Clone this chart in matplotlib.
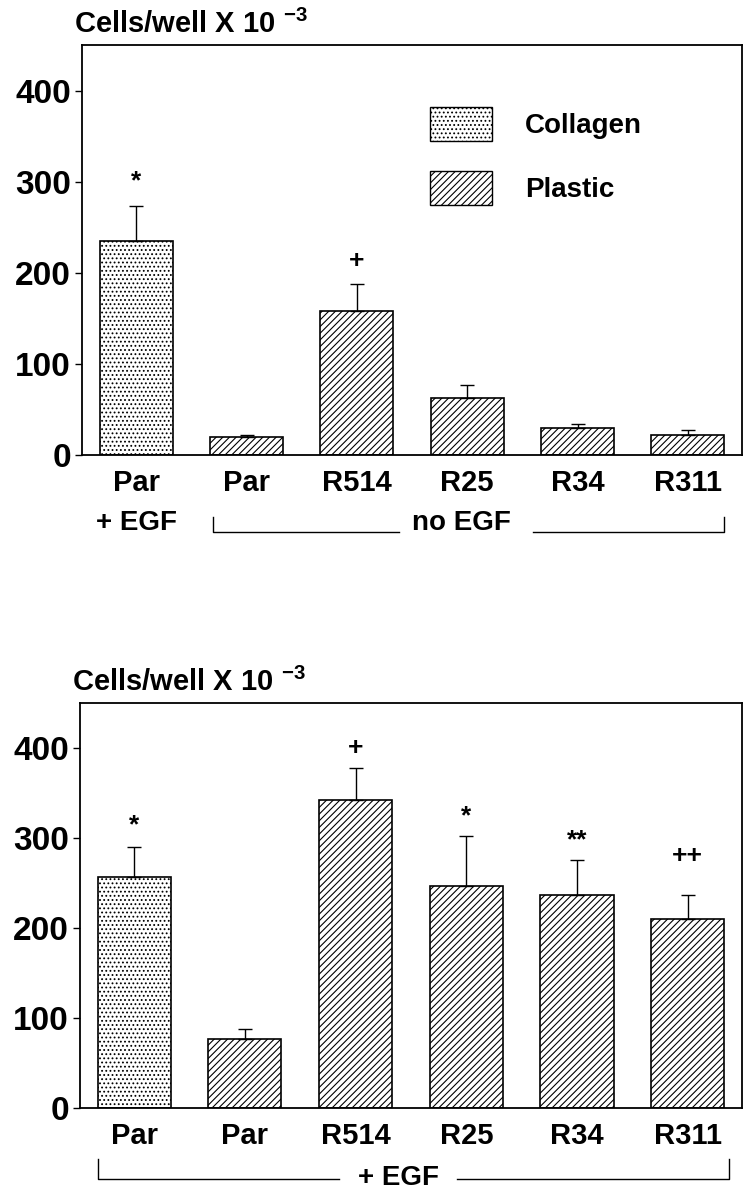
import matplotlib
matplotlib.use("Agg")
import matplotlib.pyplot as plt
from matplotlib.patches import Patch
import matplotlib as mpl

mpl.rcParams['hatch.linewidth'] = 0.8
FONT = ['Liberation Sans', 'DejaVu Sans']

# Data
categories = ["Par", "Par", "R514", "R25", "R34", "R311"]
top_values = [235, 20, 158, 63, 30, 22]
top_errors = [38, 2, 30, 14, 4, 5]
top_marks = ["*", "", "+", "", "", ""]
top_mark_y = [300, 0, 213, 0, 0, 0]
bottom_values = [257, 77, 342, 247, 237, 210]
bottom_errors = [33, 11, 36, 55, 38, 27]
bottom_marks = ["*", "", "+", "*", "**", "++"]
bottom_mark_y = [314, 0, 400, 324, 297, 280]
substrate = ["Collagen", "Plastic", "Plastic", "Plastic", "Plastic", "Plastic"]
yticks = [0, 100, 200, 300, 400]

hatches = {"Collagen": "....", "Plastic": "/////"}

fig = plt.figure(figsize=(7.54, 11.99), dpi=100)
ax1 = fig.add_axes([0.109, 0.6205, 0.875, 0.342])
ax2 = fig.add_axes([0.106, 0.0759, 0.878, 0.3378])


def draw(ax, vals, errs, marks, mark_y):
    x = list(range(len(categories)))
    for i in x:
        ax.bar(i, vals[i], width=0.66, facecolor='white', edgecolor='black',
               linewidth=1.2, hatch=hatches[substrate[i]], zorder=2)
    ax.errorbar(x, vals, yerr=[[0] * len(vals), errs], fmt='none',
                ecolor='black', elinewidth=1.0, capsize=5, capthick=1.0, zorder=3)
    for i in x:
        if marks[i]:
            ax.text(i, mark_y[i], marks[i], ha='center', va='center',
                    fontsize=19, fontweight='bold', family=FONT)
    ax.set_xlim(-0.49, 5.49)
    ax.set_ylim(0, 450)
    ax.set_yticks(yticks)
    ax.set_yticklabels([str(t) for t in yticks], fontsize=24, family=FONT, fontweight='bold')
    ax.set_xticks(x)
    ax.set_xticklabels(categories, fontsize=21, family=FONT, fontweight='bold')
    ax.tick_params(axis='x', length=0, pad=10)
    ax.tick_params(axis='y', length=5, width=1, direction='out', pad=3)
    for s in ax.spines.values():
        s.set_linewidth(1.3)
    ax.text(-0.012, 1.03, r"Cells/well X 10 $^{\mathregular{-3}}$", transform=ax.transAxes,
            fontsize=21, family=FONT, fontweight='bold', ha='left', va='baseline')


draw(ax1, top_values, top_errors, top_marks, top_mark_y)
draw(ax2, bottom_values, bottom_errors, bottom_marks, bottom_mark_y)

# Legend
handles = [Patch(facecolor='white', edgecolor='black', hatch=hatches["Collagen"], label="Collagen"),
           Patch(facecolor='white', edgecolor='black', hatch=hatches["Plastic"], label="Plastic")]
leg = ax1.legend(handles=handles, loc='upper left', bbox_to_anchor=(0.49, 0.91), frameon=False,
                 handlelength=2.2, handleheight=1.5, labelspacing=1.1, handletextpad=1.2,
                 prop={'family': FONT, 'size': 20, 'weight': 'bold'})

# Group annotations
tr1 = ax1.get_xaxis_transform()
ax1.text(0, -0.166, "+ EGF", transform=tr1, ha='center', va='center',
         fontsize=20, family=FONT, fontweight='bold')
ax1.text(2.95, -0.166, "no EGF", transform=tr1, ha='center', va='center',
         fontsize=20, family=FONT, fontweight='bold')
ax1.plot([0.7, 0.7, 2.38], [-0.152, -0.188, -0.188], color='black', lw=1, transform=tr1, clip_on=False)
ax1.plot([3.6, 5.33, 5.33], [-0.188, -0.188, -0.152], color='black', lw=1, transform=tr1, clip_on=False)

tr2 = ax2.get_xaxis_transform()
ax2.text(2.39, -0.173, "+ EGF", transform=tr2, ha='center', va='center', fontsize=20,
         family=FONT, fontweight='bold')
ax2.plot([-0.33, -0.33, 1.85], [-0.125, -0.175, -0.175], color='black', lw=1, transform=tr2, clip_on=False)
ax2.plot([2.92, 5.37, 5.37], [-0.175, -0.175, -0.125], color='black', lw=1, transform=tr2, clip_on=False)

fig.savefig("out.png", dpi=100)
